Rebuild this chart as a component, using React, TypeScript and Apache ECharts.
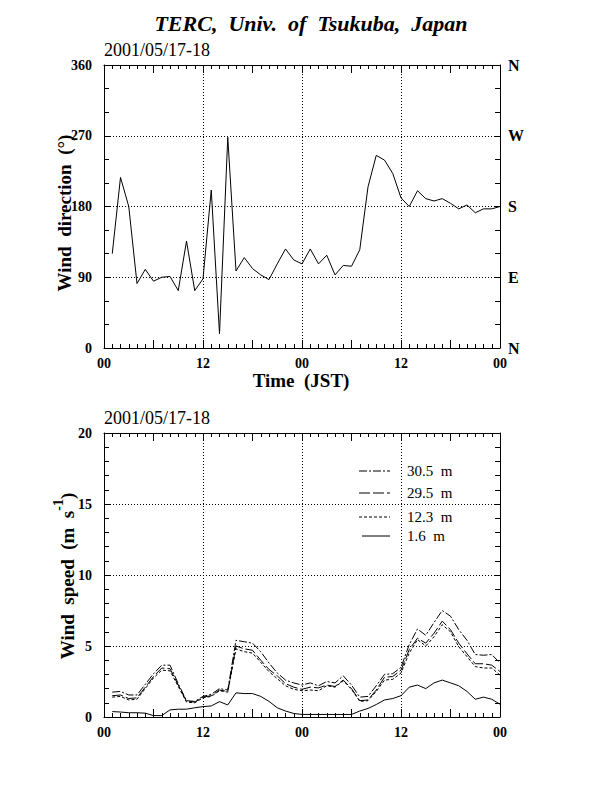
import React, { useEffect, useRef } from 'react';
import * as echarts from 'echarts';

const HOURS = [1, 2, 3, 4, 5, 6, 7, 8, 9, 10, 11, 12, 13, 14, 15, 16, 17, 18, 19, 20, 21, 22, 23, 24,
  25, 26, 27, 28, 29, 30, 31, 32, 33, 34, 35, 36, 37, 38, 39, 40, 41, 42, 43, 44, 45, 46, 47, 48];

const DIRECTION = [120, 217, 180, 82, 100, 85, 90, 91, 73, 136, 73, 88, 201, 18, 268, 98, 115, 101, 93, 87, 107, 126, 112, 107,
  126, 107, 118, 93, 105, 104, 125, 205, 245, 239, 222, 191, 180, 200, 190, 187, 190, 184, 177, 182, 172, 177, 177, 180];

const SPEED_30_5 = [1.75, 1.8, 1.55, 1.55, 2.3, 3.05, 3.65, 3.65, 2.35, 1.15, 1.1, 1.45, 1.6, 2.0, 1.9, 5.4, 5.3, 5.2, 4.6, 3.8, 3.1, 2.6, 2.4, 2.25,
  2.4, 2.2, 2.5, 2.4, 2.9, 2.25, 1.4, 1.45, 2.2, 3.0, 3.05, 3.5, 5.1, 6.2, 5.75, 6.65, 7.5, 7.1, 6.15, 5.4, 4.4, 4.35, 4.4, 3.8];
const SPEED_29_5 = [1.5, 1.55, 1.3, 1.35, 2.1, 2.85, 3.45, 3.4, 2.25, 1.1, 1.05, 1.4, 1.5, 1.9, 1.8, 5.0, 4.8, 4.7, 4.0, 3.35, 2.9, 2.35, 2.1, 1.95,
  2.1, 2.05, 2.25, 2.15, 2.6, 2.0, 1.15, 1.2, 1.9, 2.8, 2.85, 3.3, 4.75, 5.55, 5.2, 5.9, 6.75, 6.15, 5.2, 4.45, 3.75, 3.75, 3.65, 3.2];
const SPEED_12_3 = [1.4, 1.45, 1.2, 1.25, 2.0, 2.75, 3.3, 3.25, 2.15, 1.05, 1.0, 1.35, 1.45, 1.85, 1.75, 4.8, 4.6, 4.5, 3.85, 3.2, 2.7, 2.2, 1.95, 1.85,
  1.9, 1.85, 2.2, 2.1, 2.55, 1.95, 1.1, 1.15, 1.8, 2.6, 2.65, 3.1, 4.5, 5.45, 5.0, 5.65, 6.5, 6.0, 4.95, 4.25, 3.55, 3.45, 3.45, 2.95];
const SPEED_1_6 = [0.38, 0.35, 0.3, 0.3, 0.27, 0.1, 0.1, 0.5, 0.55, 0.55, 0.65, 0.73, 0.78, 1.08, 0.85, 1.7, 1.65, 1.65, 1.45, 1.1, 0.65, 0.42, 0.25, 0.18,
  0.18, 0.18, 0.18, 0.18, 0.18, 0.18, 0.42, 0.6, 0.88, 1.2, 1.3, 1.5, 2.1, 2.25, 2.0, 2.4, 2.6, 2.4, 2.2, 1.8, 1.25, 1.4, 1.25, 0.9];

const TIME_LABELS = ['00', '12', '00', '12', '00'];
const COMPASS_LABELS = ['N', 'E', 'S', 'W', 'N'];
const TIME_GRID = [12, 24, 36];
const DIR_GRID = [90, 180, 270];
const SPEED_GRID = [5, 10, 15];
const LEGEND_LABELS = ['30.5  m', '29.5  m', '12.3  m', '1.6  m'];
const DATE_LABEL = '2001/05/17-18';
const TITLE = 'TERC,  Univ.  of  Tsukuba,  Japan';

const FONT = '"Liberation Serif", "DejaVu Serif", serif';
const DASHES: (number[] | 'solid')[] = [[8, 2, 2, 2], [11, 3], [3, 2], 'solid'];

function xAxes(gridIndex: number, withLabels: boolean) {
  const common = {
    type: 'value' as const,
    gridIndex,
    min: 0,
    max: 48,
    interval: 6,
    axisLine: { show: true, onZero: false, lineStyle: { color: '#000', width: 1 } },
    axisTick: { show: true, inside: true, length: 8, lineStyle: { color: '#000', width: 1 } },
    minorTick: { show: true, splitNumber: 6, length: 4, lineStyle: { color: '#000', width: 1 } },
    splitLine: { show: false },
    minorSplitLine: { show: false },
  };
  return [
    {
      ...common,
      position: 'bottom',
      axisLabel: {
        show: withLabels,
        margin: 8,
        color: '#000',
        fontFamily: FONT,
        fontWeight: 'bold',
        fontSize: 14,
        formatter: (v: number) => (v % 12 === 0 ? TIME_LABELS[v / 12] : ''),
      },
    },
    { ...common, position: 'top', axisLabel: { show: false } },
  ];
}

function yAxes(gridIndex: number, max: number, interval: number, split: number, rightLabels: string[] | null) {
  const common = {
    type: 'value' as const,
    gridIndex,
    min: 0,
    max,
    interval,
    axisLine: { show: true, onZero: false, lineStyle: { color: '#000', width: 1 } },
    axisTick: { show: true, inside: true, length: 6, lineStyle: { color: '#000', width: 1 } },
    minorTick: { show: true, splitNumber: split, length: 5, lineStyle: { color: '#000', width: 1 } },
    splitLine: { show: false },
    minorSplitLine: { show: false },
  };
  return [
    {
      ...common,
      position: 'left',
      axisLabel: { margin: 12, color: '#000', fontFamily: FONT, fontWeight: 'bold', fontSize: 14 },
    },
    {
      ...common,
      position: 'right',
      axisLabel: rightLabels
        ? {
            show: true,
            margin: 8,
            color: '#000',
            fontFamily: FONT,
            fontWeight: 'bold',
            fontSize: 16,
            formatter: (v: number) => rightLabels[Math.round(v / interval)] ?? '',
          }
        : { show: false },
    },
  ];
}

const gridLineStyle = { color: '#000', width: 1, type: [1, 2] as number[] };

function textEl(x: number, y: number, text: string, font: string, align: string, extra: any = {}) {
  return {
    type: 'text',
    x,
    y,
    ...extra,
    style: {
      text,
      fill: '#000',
      font,
      align,
      verticalAlign: 'middle',
      textAlign: align,
      textVerticalAlign: 'middle',
    },
  };
}

export default function App() {
  const ref = useRef<HTMLDivElement>(null);

  useEffect(() => {
    if (!ref.current) return;
    const chart = echarts.init(ref.current, undefined, { renderer: 'svg' });

    const legendRows = [471, 493, 517, 536];
    const legendGraphics: any[] = [];
    LEGEND_LABELS.forEach((label, i) => {
      const y = legendRows[i];
      const dash = DASHES[i];
      legendGraphics.push({
        type: 'line',
        shape: { x1: i === 3 ? 362 : 359, y1: y, x2: 390, y2: y },
        style: { stroke: '#000', lineWidth: 1, lineDash: dash === 'solid' ? null : dash },
      });
      legendGraphics.push(textEl(407, y, label, `15px ${FONT}`, 'left'));
    });

    const speeds = [SPEED_30_5, SPEED_29_5, SPEED_12_3, SPEED_1_6];

    chart.setOption({
      animation: false,
      textStyle: { fontFamily: FONT },
      grid: [
        { left: 104, top: 65, width: 396, height: 283 },
        { left: 104, top: 433, width: 396, height: 284 },
      ],
      xAxis: [...xAxes(0, true), ...xAxes(1, true)],
      yAxis: [
        ...yAxes(0, 360, 90, 3, COMPASS_LABELS),
        ...yAxes(1, 20, 5, 5, null),
      ],
      graphic: [
        textEl(311, 23, TITLE, `italic bold 22px ${FONT}`, 'center'),
        textEl(104, 50, DATE_LABEL, `18px ${FONT}`, 'left'),
        textEl(104, 418, DATE_LABEL, `18px ${FONT}`, 'left'),
        textEl(301, 380, 'Time  (JST)', `bold 19px ${FONT}`, 'center'),
        textEl(64, 213, 'Wind  direction  (°)', `bold 19px ${FONT}`, 'center', { rotation: Math.PI / 2 }),
        {
          type: 'text',
          x: 64,
          y: 576,
          rotation: Math.PI / 2,
          style: {
            text: '{a|Wind  speed  (m  s}{b|-1}{a|)}',
            fill: '#000',
            align: 'center',
            verticalAlign: 'middle',
            textAlign: 'center',
            textVerticalAlign: 'middle',
            rich: {
              a: { fontFamily: FONT, fontWeight: 'bold', fontSize: 19, lineHeight: 26, verticalAlign: 'bottom', fill: '#000' },
              b: { fontFamily: FONT, fontWeight: 'bold', fontSize: 14, lineHeight: 14, verticalAlign: 'top', fill: '#000' },
            },
          },
        },
        ...legendGraphics,
      ],
      series: [
        {
          type: 'line',
          xAxisIndex: 0,
          yAxisIndex: 0,
          data: HOURS.map((h, i) => [h, DIRECTION[i]]),
          symbol: 'none',
          lineStyle: { color: '#000', width: 1 },
          z: 3,
          markLine: {
            silent: true,
            symbol: ['none', 'none'],
            label: { show: false },
            lineStyle: gridLineStyle,
            z: 1,
            data: [...TIME_GRID.map((v) => ({ xAxis: v })), ...DIR_GRID.map((v) => ({ yAxis: v }))],
          },
        },
        ...speeds.map((vals, k) => ({
          type: 'line',
          xAxisIndex: 2,
          yAxisIndex: 2,
          name: LEGEND_LABELS[k],
          data: HOURS.map((h, i) => [h, vals[i]]),
          symbol: 'none',
          z: 3,
          lineStyle: { color: '#000', width: 1, type: DASHES[k] },
          ...(k === 0
            ? {
                markLine: {
                  silent: true,
                  symbol: ['none', 'none'],
                  label: { show: false },
                  lineStyle: gridLineStyle,
                  z: 1,
                  data: [...TIME_GRID.map((v) => ({ xAxis: v })), ...SPEED_GRID.map((v) => ({ yAxis: v }))],
                },
              }
            : {}),
        })),
      ],
    });

    return () => chart.dispose();
  }, []);

  return (
    <div
      ref={ref}
      style={{ position: 'absolute', left: 0, top: 0, width: 616, height: 792, background: '#fff' }}
    />
  );
}
